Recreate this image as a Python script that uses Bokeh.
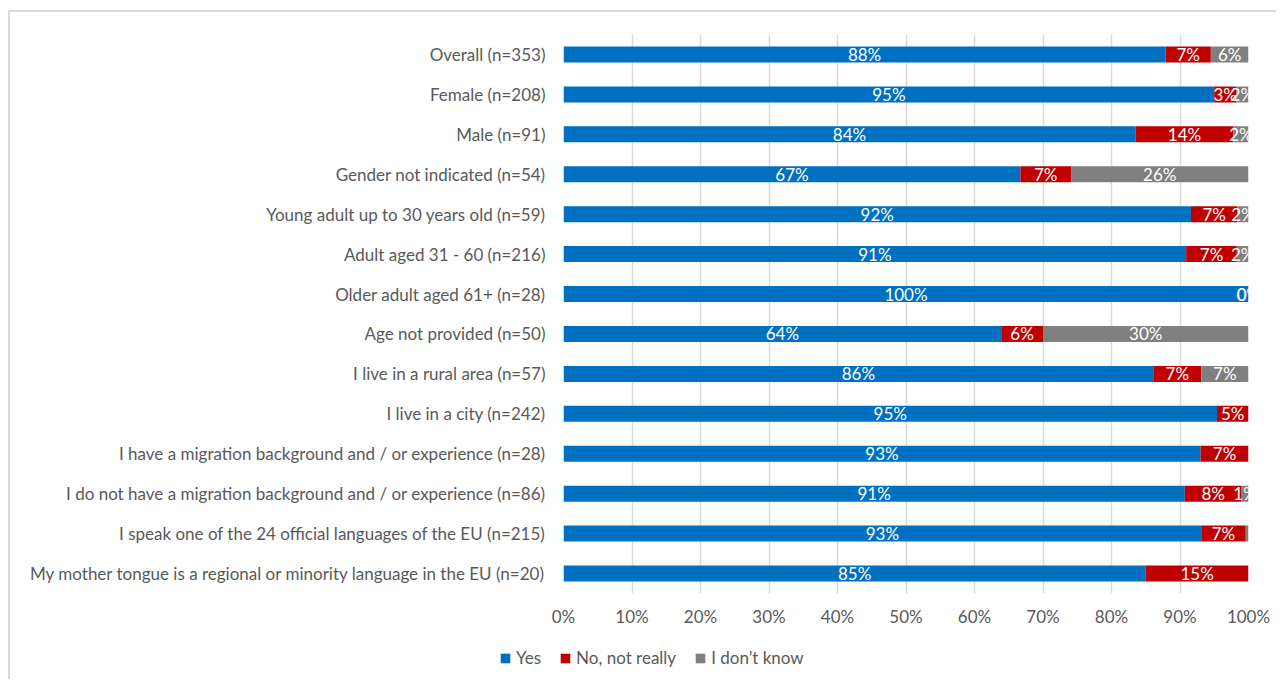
import math
from bokeh.plotting import figure
from bokeh.layouts import column
from bokeh.models import ColumnDataSource, FactorRange, Range1d, FixedTicker, NumeralTickFormatter, Legend, LegendItem
from bokeh.core.properties import value
from bokeh.embed import file_html
from bokeh.resources import INLINE

categories = [
    "Overall (n=353)",
    "Female (n=208)",
    "Male (n=91)",
    "Gender not indicated (n=54)",
    "Young adult up to 30 years old (n=59)",
    "Adult aged 31 - 60 (n=216)",
    "Older adult aged 61+ (n=28)",
    "Age not provided (n=50)",
    "I live in a rural area (n=57)",
    "I live in a city (n=242)",
    "I have a migration background and / or experience (n=28)",
    "I do not have a migration background and / or experience (n=86)",
    "I speak one of the 24 official languages of the EU (n=215)",
    "My mother tongue is a regional or minority language in the EU (n=20)",
]
yes = [87.9, 95.0, 83.5, 66.7, 91.6, 90.9, 100.0, 63.9, 86.1, 95.4, 93.0, 90.7, 93.1, 85.0]
no_not_really = [6.6, 3.2, 14.3, 7.4, 6.8, 7.4, 0.0, 6.1, 7.0, 4.6, 7.0, 8.3, 6.5, 15.0]
dont_know = [5.5, 1.8, 2.2, 25.9, 1.6, 1.7, 0.0, 30.0, 6.9, float("nan"), float("nan"), 1.0, 0.4, float("nan")]
x_ticks = [0, 10, 20, 30, 40, 50, 60, 70, 80, 90, 100]

series_names = ["Yes", "No, not really", "I don\u2019t know"]
colors = ["#0070C0", "#C00000", "#808080"]

FONT = "Lato"
FS = "17px"
TXT = "#595959"

def nz(v):
    return 0.0 if (v is None or (isinstance(v, float) and math.isnan(v))) else v

src = ColumnDataSource(dict(
    cat=categories,
    yes=[v / 100 for v in yes],
    no=[nz(v) / 100 for v in no_not_really],
    dk=[nz(v) / 100 for v in dont_know],
))

p = figure(
    width=1266, height=620,
    y_range=FactorRange(*reversed(categories)),
    x_range=Range1d(0, 1),
    output_backend="svg", toolbar_location=None,
    min_border_left=553, min_border_right=28, min_border_top=22, min_border_bottom=39,
)
p.outline_line_color = None

renderers = p.hbar_stack(["yes", "no", "dk"], y="cat", height=0.4, color=colors, source=src, line_color=None)

# segment labels
lx, ly, lt = [], [], []
for i, c in enumerate(categories):
    start = 0.0
    for vals in (yes, no_not_really, dont_know):
        v = vals[i]
        if isinstance(v, float) and math.isnan(v):
            continue
        if not (0 < v < 0.5):
            lx.append((start + v / 2) / 100)
            ly.append(c)
            lt.append("%d%%" % int(math.floor(v + 0.5)))
        start += v
lsrc = ColumnDataSource(dict(x=lx, y=ly, t=lt))
p.text(x="x", y="y", text="t", source=lsrc, text_color="white", text_align="center",
       text_baseline="middle", text_font=value(FONT), text_font_size=FS)

# axes
p.xaxis.ticker = FixedTicker(ticks=[t / 100 for t in x_ticks])
p.xaxis.formatter = NumeralTickFormatter(format="0%")
p.xaxis.axis_line_color = None
p.xaxis.major_tick_line_color = None
p.xaxis.minor_tick_line_color = None
p.xaxis.major_tick_out = 0
p.xaxis.major_tick_in = 0
p.xaxis.major_label_standoff = 12
p.xaxis.major_label_text_font = FONT
p.xaxis.major_label_text_font_size = FS
p.xaxis.major_label_text_color = TXT

p.yaxis.axis_line_color = None
p.yaxis.major_tick_line_color = None
p.yaxis.minor_tick_line_color = None
p.yaxis.major_tick_out = 0
p.yaxis.major_tick_in = 0
p.yaxis.major_label_standoff = 18
p.yaxis.major_label_text_font = FONT
p.yaxis.major_label_text_font_size = FS
p.yaxis.major_label_text_color = TXT

p.ygrid.grid_line_color = None
p.xgrid.grid_line_color = "#D9D9D9"
p.xgrid.grid_line_width = 1.5

# legend panel (separate strip below the chart)
lg = figure(
    width=1266, height=47, x_range=Range1d(0, 1), y_range=Range1d(0, 1),
    x_axis_type=None, y_axis_type=None, output_backend="svg", toolbar_location=None,
    min_border=0,
)
lg.outline_line_color = None
lg.grid.grid_line_color = None
for fig in (p, lg):
    try:
        fig.frame_align = False
    except Exception:
        pass
# legend swatches only (kept outside the visible range)
dummy = ColumnDataSource(dict(y=[-10], l=[0], r=[1]))
lrs = [lg.hbar(y="y", left="l", right="r", height=0.4, color=c, source=dummy, line_color=None) for c in colors]
legend = Legend(
    items=[LegendItem(label=n, renderers=[r]) for n, r in zip(series_names, lrs)],
    orientation="horizontal", location=(489, 11),
    glyph_width=12, glyph_height=12, label_height=20, label_standoff=5, spacing=18,
    padding=0, margin=0, border_line_color=None, background_fill_alpha=0,
    label_text_font=FONT, label_text_font_size=FS, label_text_color=TXT,
)
lg.add_layout(legend, "center")

layout = column(p, lg, spacing=0, margin=(10, 0, 0, 8),
                styles={"border-left": "2px solid #D9D9D9", "border-top": "2px solid #D9D9D9"})

open("out.html", "w").write(file_html(layout, INLINE))
